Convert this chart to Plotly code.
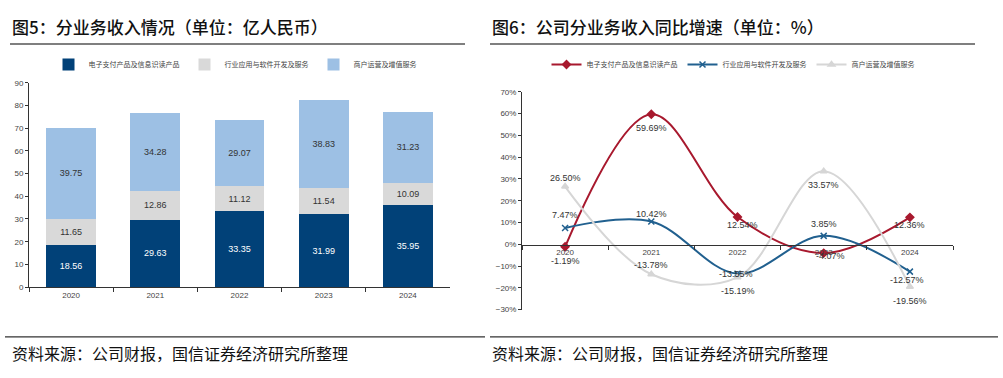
import plotly.graph_objects as go

# ---------------- data ----------------
years = ["2020", "2021", "2022", "2023", "2024"]
series_names = ["电子支付产品及信息识读产品", "行业应用与软件开发及服务", "商户运营及增值服务"]
rev_payment = [18.56, 29.63, 33.35, 31.99, 35.95]
rev_software = [11.65, 12.86, 11.12, 11.54, 10.09]
rev_merchant = [39.75, 34.28, 29.07, 38.83, 31.23]

growth_payment = [-1.19, 59.69, 12.54, -4.07, 12.36]
growth_software = [7.47, 10.42, -13.55, 3.85, -12.57]
growth_merchant = [26.50, -13.78, -15.19, 33.57, -19.56]

left_title = "图5：分业务收入情况（单位：亿人民币）"
right_title = "图6：公司分业务收入同比增速（单位：%）"
source_text = "资料来源：公司财报，国信证券经济研究所整理"

# ---------------- style ----------------
W, H = 1003, 378
CJK = "Noto Sans CJK SC"
NUM = "Liberation Sans, " + CJK
bar_colors = ["#014178", "#D9D9D9", "#9DC0E4"]
line_colors = ["#A8192E", "#21608F", "#D6D6D6"]
# label pixel offsets (dx, dy down) for the growth chart labels
label_offsets = [
    [(0, 14), (0, 14), (5, 8), (7, 3), (0, 8)],
    [(0, -13), (0, -8), (-2, 0), (0, -12), (-3, 8)],
    [(0, -9), (0, -9), (0, 14), (0, 14), (0, 14)],
]


def px(x):
    return x / W


def py(y):
    return 1 - y / H


fig = go.Figure()

# ---- left: stacked bars ----
for vals, name, col, tcol in zip(
    [rev_payment, rev_software, rev_merchant], series_names, bar_colors,
    ["white", "#333333", "#333333"]):
    fig.add_trace(go.Bar(
        x=years, y=vals, name=name, marker_color=col, marker_line_width=0,
        text=[f"{v:.2f}" for v in vals], textposition="inside",
        insidetextanchor="middle", textangle=0,
        textfont=dict(size=9, color=tcol, family=NUM),
        xaxis="x", yaxis="y", legend="legend", cliponaxis=False))

# ---- right: smoothed lines ----
growth_sets = [growth_payment, growth_software, growth_merchant]
symbols = ["diamond", "x-thin", "triangle-up"]
for vals, name, col, sym in zip(growth_sets, series_names, line_colors, symbols):
    fig.add_trace(go.Scatter(
        x=years, y=vals, name=name, mode="lines+markers",
        line=dict(color=col, width=2, shape="spline", smoothing=1.0),
        marker=dict(symbol=sym, size=6, color=col,
                    line=dict(color=col, width=1.5)),
        xaxis="x2", yaxis="y2", legend="legend2", cliponaxis=False))

for vals, offs in zip(growth_sets, label_offsets):
    for i, (v, (dx, dy)) in enumerate(zip(vals, offs)):
        fig.add_annotation(x=i, y=v, xref="x2", yref="y2", text=f"{v:.2f}%",
                           showarrow=False, xshift=dx, yshift=-dy,
                           font=dict(size=9, color="#333333", family=NUM))

axis_font = dict(size=8, color="#444444", family=NUM)

fig.update_layout(
    width=W, height=H,
    margin=dict(l=0, r=0, t=0, b=0),
    paper_bgcolor="white", plot_bgcolor="white",
    barmode="stack", bargap=0.41,
    showlegend=True,
    xaxis=dict(domain=[px(29), px(450)], type="category", range=[-0.5, 4.5],
               showline=True, linecolor="#333333", linewidth=1,
               ticks="outside", ticklen=4, tickcolor="#333333",
               tickson="boundaries", tickfont=axis_font, anchor="y",
               showgrid=False),
    yaxis=dict(domain=[py(290), py(80.7)], range=[0, 90], dtick=10,
               showline=True, linecolor="#333333", linewidth=1,
               ticks="outside", ticklen=3, tickcolor="#333333",
               tickfont=axis_font, showgrid=False, zeroline=False,
               anchor="x"),
    xaxis2=dict(domain=[px(522), px(953)], type="category", range=[-0.5, 4.5],
                showline=True, linecolor="#333333", linewidth=1,
                ticks="outside", ticklen=4, tickcolor="#333333",
                tickson="boundaries", tickfont=axis_font,
                anchor="free", position=py(246.5), showgrid=False),
    yaxis2=dict(domain=[py(313), py(90)], range=[-30, 70], dtick=10,
                ticksuffix="%", showline=True, linecolor="#333333", linewidth=1,
                ticks="outside", ticklen=3, tickcolor="#333333",
                tickfont=axis_font, showgrid=False, zeroline=False,
                anchor="x2"),
    legend=dict(orientation="h", x=px(235), xanchor="center",
                y=py(62), yanchor="middle", traceorder="normal",
                font=dict(size=7, color="#444444", family=CJK),
                itemwidth=30, tracegroupgap=0, bgcolor="rgba(0,0,0,0)"),
    legend2=dict(orientation="h", x=px(733), xanchor="center",
                 y=py(62), yanchor="middle", traceorder="normal",
                 font=dict(size=7, color="#444444", family=CJK),
                 itemwidth=30, tracegroupgap=0, bgcolor="rgba(0,0,0,0)"),
    font=dict(family=CJK),
)

# titles and footers
for x0, t in [(10, left_title), (490, right_title)]:
    fig.add_annotation(text=t, xref="paper", yref="paper", x=px(x0), y=py(23),
                       xanchor="left", yanchor="middle", showarrow=False,
                       font=dict(size=17, color="#111111", family=CJK, weight=500))
for x0 in [10, 490]:
    fig.add_annotation(text=source_text, xref="paper", yref="paper", x=px(x0), y=py(357),
                       xanchor="left", yanchor="middle", showarrow=False,
                       font=dict(size=16, color="#111111", family=CJK))

shapes = []
for (x0, x1) in [(10, 465), (490, 975)]:
    shapes.append(dict(type="line", xref="paper", yref="paper", x0=px(x0), x1=px(x1),
                       y0=py(41), y1=py(41), line=dict(color="#555555", width=1.5)))
for (x0, x1) in [(5, 485), (490, 998)]:
    shapes.append(dict(type="line", xref="paper", yref="paper", x0=px(x0), x1=px(x1),
                       y0=py(341), y1=py(341), line=dict(color="#333333", width=1.2)))
fig.update_layout(shapes=shapes)

fig.write_html("out.html", config={"displayModeBar": False},
               post_script="document.body.style.margin='0';document.body.style.overflow='hidden';")
